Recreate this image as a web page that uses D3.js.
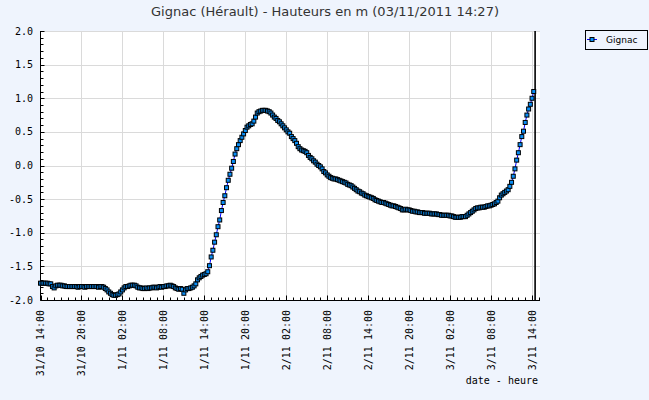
<!DOCTYPE html>
<html><head><meta charset="utf-8">
<script src="https://cdnjs.cloudflare.com/ajax/libs/d3/7.8.5/d3.min.js"></script>
<style>
html,body{margin:0;padding:0;background:#eff4fd;}
svg{display:block;}
</style></head>
<body>
<svg id="c" width="649" height="400"></svg>
<script>
// ---- data ----
const title = "Gignac (Hérault) - Hauteurs en m (03/11/2011 14:27)";
const seriesName = "Gignac";
const xAxisTitle = "date - heure";
const startTime = Date.UTC(2011, 9, 31, 14, 0);   // 31/10 14:00
const stepMinutes = 15;
const nowTime = Date.UTC(2011, 10, 3, 14, 27);
const xDomain = [Date.UTC(2011, 9, 31, 14, 0), Date.UTC(2011, 10, 3, 15, 10)];
const yDomain = [-2, 2];
const yTicks = [-2.0, -1.5, -1.0, -0.5, 0.0, 0.5, 1.0, 1.5, 2.0];
const heights = [
 -1.75,-1.75,-1.75,-1.75,-1.75,-1.76,-1.76,-1.80,-1.82,-1.79,
 -1.78,-1.78,-1.78,-1.79,-1.79,-1.80,-1.80,-1.80,-1.80,-1.80,
 -1.80,-1.80,-1.81,-1.80,-1.80,-1.80,-1.81,-1.80,-1.80,-1.80,
 -1.80,-1.80,-1.80,-1.80,-1.81,-1.80,-1.80,-1.81,-1.83,-1.85,
 -1.88,-1.90,-1.92,-1.93,-1.93,-1.92,-1.91,-1.88,-1.85,-1.82,
 -1.80,-1.80,-1.79,-1.78,-1.78,-1.78,-1.79,-1.81,-1.82,-1.82,
 -1.83,-1.83,-1.82,-1.83,-1.82,-1.82,-1.81,-1.81,-1.82,-1.81,
 -1.80,-1.81,-1.80,-1.80,-1.79,-1.79,-1.78,-1.79,-1.80,-1.82,
 -1.83,-1.84,-1.83,-1.84,-1.90,-1.85,-1.83,-1.83,-1.82,-1.81,
 -1.79,-1.76,-1.70,-1.67,-1.65,-1.63,-1.62,-1.61,-1.58,-1.49,
 -1.36,-1.26,-1.14,-1.03,-0.91,-0.81,-0.67,-0.55,-0.45,-0.33,
 -0.22,-0.13,-0.04,0.06,0.17,0.25,0.31,0.37,0.42,0.47,
 0.52,0.57,0.59,0.61,0.62,0.66,0.72,0.78,0.80,0.81,
 0.82,0.82,0.82,0.81,0.80,0.78,0.75,0.72,0.70,0.67,
 0.65,0.62,0.59,0.56,0.53,0.50,0.48,0.43,0.40,0.37,
 0.33,0.28,0.25,0.23,0.22,0.21,0.19,0.15,0.12,0.10,
 0.07,0.05,0.02,0.00,-0.02,-0.05,-0.09,-0.11,-0.14,-0.16,
 -0.18,-0.19,-0.20,-0.20,-0.21,-0.22,-0.23,-0.24,-0.25,-0.26,
 -0.28,-0.29,-0.30,-0.32,-0.34,-0.36,-0.38,-0.39,-0.41,-0.42,
 -0.44,-0.45,-0.46,-0.47,-0.48,-0.49,-0.51,-0.52,-0.53,-0.54,
 -0.55,-0.55,-0.56,-0.57,-0.58,-0.59,-0.60,-0.60,-0.61,-0.62,
 -0.63,-0.64,-0.66,-0.66,-0.65,-0.66,-0.66,-0.67,-0.68,-0.68,
 -0.69,-0.69,-0.70,-0.70,-0.70,-0.71,-0.71,-0.71,-0.71,-0.72,
 -0.72,-0.72,-0.72,-0.73,-0.73,-0.74,-0.74,-0.74,-0.74,-0.74,
 -0.75,-0.75,-0.76,-0.77,-0.77,-0.77,-0.77,-0.76,-0.76,-0.76,
 -0.74,-0.72,-0.70,-0.68,-0.66,-0.64,-0.63,-0.63,-0.62,-0.62,
 -0.62,-0.61,-0.60,-0.60,-0.59,-0.58,-0.57,-0.55,-0.53,-0.48,
 -0.44,-0.42,-0.40,-0.38,-0.36,-0.31,-0.25,-0.16,-0.05,0.08,
 0.19,0.31,0.43,0.51,0.64,0.75,0.84,0.91,1.00,1.10
];

// ---- chart ----
const svg = d3.select("#c");
const L = 40.5, R = 540, T = 31, B = 300;
const x = d3.scaleUtc().domain(xDomain).range([L, R]);
const y = d3.scaleLinear().domain(yDomain).range([B, T]);
const data = heights.map((v, i) => ({t: new Date(startTime + i * stepMinutes * 60000), v}));
const px = v => Math.round(v) + 0.5;

svg.append("rect").attr("x", L).attr("y", T).attr("width", R - L).attr("height", B - T).attr("fill", "#fff");

const minorX = d3.utcHour.range(new Date(xDomain[0]), new Date(xDomain[1]));
const majorX = minorX.filter((d, i) => i % 6 === 0);
const minorY = d3.range(-20, 21).map(k => k / 10);

// grid
const grid = svg.append("g").attr("stroke", "#dadada").attr("stroke-width", 1);
grid.selectAll("line.gx").data(majorX.slice(1)).join("line")
  .attr("x1", d => px(x(d))).attr("x2", d => px(x(d))).attr("y1", T).attr("y2", B);
grid.selectAll("line.gy").data(yTicks.slice(1)).join("line")
  .attr("x1", L).attr("x2", R).attr("y1", d => px(y(d))).attr("y2", d => px(y(d)));

// axes
const ax = svg.append("g").attr("stroke", "#000").attr("stroke-width", 1);
ax.append("line").attr("x1", L).attr("x2", L).attr("y1", T).attr("y2", px(B));
ax.append("line").attr("x1", L).attr("x2", R).attr("y1", px(B)).attr("y2", px(B));
ax.selectAll("line.ty").data(minorY).join("line")
  .attr("x1", L).attr("x2", d => yTicks.some(t => Math.abs(t - d) < 1e-9) ? L + 4 : L + 3)
  .attr("y1", d => px(y(d))).attr("y2", d => px(y(d)));
ax.selectAll("line.tx").data(minorX).join("line")
  .attr("x1", d => px(x(d))).attr("x2", d => px(x(d)))
  .attr("y1", px(B)).attr("y2", d => majorX.some(m => +m === +d) ? px(B) - 5 : px(B) - 3);

// now marker
svg.append("line").attr("x1", x(new Date(nowTime))).attr("x2", x(new Date(nowTime)))
  .attr("y1", T).attr("y2", B).attr("stroke", "#000").attr("stroke-width", 1.6);

// tick labels
const mono = "'DejaVu Sans Mono', monospace";
svg.append("g").selectAll("text").data(yTicks).join("text")
  .attr("x", 33).attr("y", d => y(d)).attr("dy", "0.35em")
  .attr("text-anchor", "end").attr("font-family", mono).attr("font-size", 10).attr("fill", "#000")
  .text(d => d3.format(".1f")(d).replace("−", "-"));
const fmt = d3.utcFormat("%-d/%-m %H:%M");
svg.append("g").selectAll("text").data(majorX).join("text")
  .attr("transform", d => `translate(${x(d) + 3.5},310) rotate(-90)`)
  .attr("text-anchor", "end").attr("font-family", mono).attr("font-size", 10).attr("fill", "#000")
  .text(d => fmt(d));
svg.append("text").attr("x", 538).attr("y", 384).attr("text-anchor", "end")
  .attr("font-family", mono).attr("font-size", 10).attr("fill", "#000").text(xAxisTitle);

// title
svg.append("text").attr("x", 325).attr("y", 16).attr("text-anchor", "middle")
  .attr("font-family", "'DejaVu Sans', sans-serif").attr("font-size", 13).attr("fill", "#333").text(title);

// series
const line = d3.line().x(d => x(d.t)).y(d => y(d.v));
svg.append("path").datum(data).attr("d", line).attr("fill", "none").attr("stroke", "#0000ff").attr("stroke-width", 1);
svg.append("g").selectAll("rect").data(data).join("rect")
  .attr("x", d => x(d.t) - 2).attr("y", d => y(d.v) - 2).attr("width", 4).attr("height", 4)
  .attr("fill", "#0a8ef5").attr("stroke", "#000").attr("stroke-width", 1);

// legend
const lg = svg.append("g");
lg.append("rect").attr("x", 585.5).attr("y", 30.5).attr("width", 62).attr("height", 19)
  .attr("fill", "none").attr("stroke", "#000");
lg.append("line").attr("x1", 587).attr("x2", 597).attr("y1", 39.5).attr("y2", 39.5).attr("stroke", "#0000ff");
lg.append("rect").attr("x", 590).attr("y", 37.5).attr("width", 4).attr("height", 4)
  .attr("fill", "#0a8ef5").attr("stroke", "#000");
lg.append("text").attr("x", 606).attr("y", 43).attr("font-family", "'DejaVu Sans', sans-serif")
  .attr("font-size", 9).attr("fill", "#000").text(seriesName);
</script>
</body></html>
